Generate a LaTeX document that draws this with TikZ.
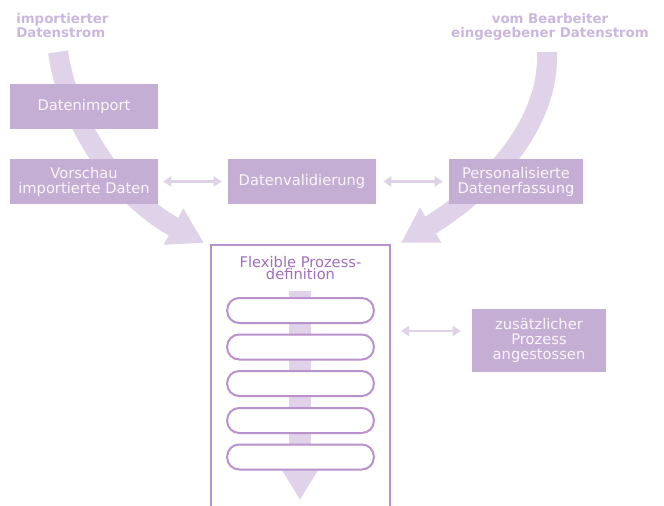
\documentclass[tikz,border=0pt]{standalone}
\usepackage{fontspec}
\setmainfont{DejaVu Sans}
\usepackage{xcolor}
\definecolor{boxlila}{RGB}{197, 174, 212}
\definecolor{flowlila}{RGB}{224, 211, 233}
\definecolor{titlelila}{RGB}{203, 183, 222}
\definecolor{framelila}{RGB}{185, 145, 205}
\definecolor{prozlila}{RGB}{160, 110, 185}
\definecolor{boxtext}{RGB}{250, 245, 250}
\usetikzlibrary{arrows.meta}
\tikzset{
  stepbox/.style={fill=boxlila,text=boxtext,align=center,inner sep=0pt,
    minimum height=33.75pt,font=\fontsize{11}{11.3}\selectfont},
  streamtitle/.style={text=titlelila,inner sep=0pt,
    font=\fontsize{10}{10.3}\selectfont\bfseries},
  bigflow/.style={draw=flowlila,line width=15pt,
    -{Triangle[width=29pt,length=26pt]}},
  swap/.style={draw=flowlila,line width=1.8pt,
    {Triangle[width=7.5pt,length=6pt]}-{Triangle[width=7.5pt,length=6pt]}},
  pill/.style={draw=framelila,line width=1.5pt,fill=white,rounded corners=9pt,
    minimum width=110pt,minimum height=18.75pt,inner sep=0pt},
}

\begin{document}
\begin{tikzpicture}[x=0.75pt,y=-0.75pt]
\useasboundingbox (0,0) rectangle (664,506);
% the two incoming streams
\draw[bigflow] (58,52) .. controls (68,120) and (115,195) .. (204,243);
\draw[bigflow] (547,52) .. controls (550,130) and (480,195) .. (401,243);
\node[streamtitle,anchor=north west,align=left] (titleimp) at (16,13) {importierter\\Datenstrom};
\node[streamtitle,anchor=north,align=center] (titleuser) at (550,13) {vom Bearbeiter\\eingegebener Datenstrom};
% boxes
\node[stepbox,minimum width=111pt] (import) at (84,106.5) {Datenimport};
\node[stepbox,minimum width=111pt] (preview) at (84,181.5) {Vorschau\\importierte Daten};
\node[stepbox,minimum width=111pt] (valid) at (302,181.5) {Datenvalidierung};
\node[stepbox,minimum width=100.5pt] (capture) at (516,181.5) {Personalisierte\\Datenerfassung};
\node[stepbox,minimum width=100.5pt,minimum height=47.25pt] (extra) at (539,340.5) {zusätzlicher\\Prozess\\angestossen};
\draw[swap,shorten <=3.75pt,shorten >=4.5pt] (preview) -- (valid);
\draw[swap,shorten <=5.25pt,shorten >=4.5pt] (valid) -- (capture);
% process definition
\draw[draw=framelila,line width=1.5pt] (211,507) |- (390,245) -- (390,507);
\coordinate (procE) at (390,331);
\node[text=prozlila,align=center,inner sep=0pt,font=\fontsize{11}{9.5}\selectfont] (proctitle) at (300.5,268) {Flexible Prozess-\\definition};
\draw[draw=flowlila,line width=16.5pt,-{Triangle[width=25.5pt,length=22.5pt]}] (300,291) -- (300,500);
\node[pill] (s1) at (300.5,310.5) {};
\node[pill] (s2) at (300.5,347) {};
\node[pill] (s3) at (300.5,383.5) {};
\node[pill] (s4) at (300.5,420.5) {};
\node[pill] (s5) at (300.5,457) {};
\draw[swap,shorten <=8.25pt,shorten >=8.25pt] (procE) -- (extra.west |- procE);
\end{tikzpicture}
\end{document}
